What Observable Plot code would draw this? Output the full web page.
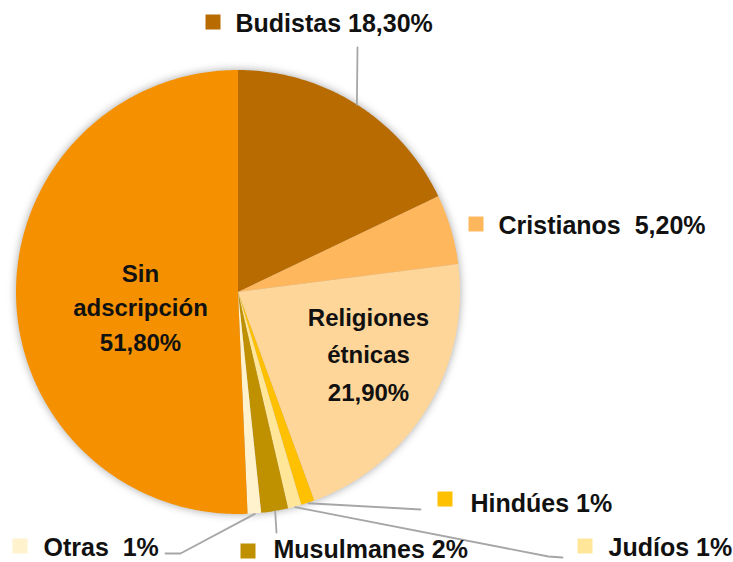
<!DOCTYPE html>
<html><head><meta charset="utf-8">
<script src="https://cdn.jsdelivr.net/npm/d3@7"></script>
<script src="https://cdn.jsdelivr.net/npm/@observablehq/plot@0.6"></script>
<style>body{margin:0;background:#fff} #chart{width:733px;height:562px}</style>
</head><body><div id="chart"></div>
<script>
// ---- data ----
const categories = ["Budistas","Cristianos","Religiones étnicas","Hindúes","Judíos","Musulmanes","Otras","Sin adscripción"];
const values = [18.3, 5.2, 21.9, 1, 1, 2, 1, 51.8];
const valueLabels = ["18,30%","5,20%","21,90%","1%","1%","2%","1%","51,80%"];
const colors = ["#B86B00","#FFB75E","#FFD699","#FFC000","#FFE699","#BF9000","#FFF2CC","#F59100"];

// ---- layout (pixels) ----
const W = 733, H = 562, CX = 238, CY = 292, R = 222;
const FONT = "Liberation Sans, Arial, sans-serif";
const outerLayout = {
  "Budistas":   {sx:213, sy:22,  tx:235, ty:31,  sep:" ",           leader:[[357,47]]},
  "Cristianos": {sx:476, sy:224, tx:498, ty:233, sep:"\u00a0\u00a0", leader:null},
  "Hindúes":    {sx:445, sy:499, tx:470, ty:511, sep:" ",           leader:[[420,509]]},
  "Judíos":     {sx:585, sy:546, tx:608, ty:555, sep:" ",           leader:[[548,556],[562,557]]},
  "Musulmanes": {sx:248, sy:551, tx:273, ty:557, sep:" ",           leader:[[276,532]]},
  "Otras":      {sx:20,  sy:546, tx:43,  ty:555, sep:"\u00a0\u00a0", leader:[[180,553],[165,553]]}
};
const innerLayout = {
  "Religiones étnicas": {x:368, y:400, lh:1.55, lines:["Religiones","étnicas"]},
  "Sin adscripción":    {x:140, y:350, lh:1.42, lines:["Sin","adscripción"]}
};

// ---- geometry derived from values ----
const total = d3.sum(values);
let acc = 0;
const slices = categories.map((name, i) => {
  const a0 = acc / total * 2 * Math.PI; acc += values[i];
  const a1 = acc / total * 2 * Math.PI;
  return {name, i, a0, a1, mid:(a0 + a1) / 2};
});
function slicePoints(s) {
  const out = [[CX, CY]];
  const n = Math.max(2, Math.ceil((s.a1 - s.a0) / (Math.PI / 360)));
  for (let k = 0; k <= n; k++) {
    const a = s.a0 + (s.a1 - s.a0) * k / n;
    out.push([CX + R * Math.sin(a), CY - R * Math.cos(a)]);
  }
  return out;
}

const outer = slices.filter(s => outerLayout[s.name]).map(s => {
  const L = outerLayout[s.name];
  return {name:s.name, ...L, text: s.name + L.sep + valueLabels[s.i]};
});
const leaders = [];
outer.forEach(o => {
  if (!o.leader) return;
  const s = slices.find(d => d.name === o.name);
  leaders.push({name:o.name, x:CX + R * Math.sin(s.mid), y:CY - R * Math.cos(s.mid)});
  o.leader.forEach(p => leaders.push({name:o.name, x:p[0], y:p[1]}));
});
const inner = slices.filter(s => innerLayout[s.name]).map(s => {
  const L = innerLayout[s.name];
  return {name:s.name, ...L, text:[...L.lines, valueLabels[s.i]].join("\n")};
});

// pie mark: rendered through Plot's x / y scales
function pieMark(index, scales) {
  const line = d3.line().x(p => scales.x(p[0])).y(p => scales.y(p[1]));
  const g = d3.create("svg:g").attr("aria-label", "pie")
    .style("filter", "drop-shadow(0px 0px 4px rgba(0,0,0,0.35))");
  slices.forEach(s => {
    g.append("path").attr("d", line(slicePoints(s)) + "Z")
      .attr("fill", colors[s.i]).attr("stroke", "none");
  });
  return g.node();
}

const SQ = 15;
const chart = Plot.plot({
  width: W, height: H, margin: 0,
  style: {background:"#fff", overflow:"visible"},
  x: {domain:[0, W], range:[0, W], axis:null},
  y: {domain:[0, H], range:[0, H], axis:null},
  color: {domain:categories, range:colors},
  marks: [
    pieMark,
    Plot.line(leaders, {x:"x", y:"y", z:"name", stroke:"#A6A6A6", strokeWidth:1.8}),
    Plot.rect(outer, {x1:d => d.sx - SQ/2, x2:d => d.sx + SQ/2, y1:d => d.sy - SQ/2, y2:d => d.sy + SQ/2, fill:"name"}),
    Plot.text(outer, {x:"tx", y:"ty", text:"text", textAnchor:"start", lineAnchor:"bottom",
      fontSize:25, fontWeight:"bold", fontFamily:FONT, fill:"#111"}),
    ...inner.map(d => Plot.text([d], {x:"x", y:"y", text:"text", textAnchor:"middle", lineAnchor:"bottom",
      lineHeight:d.lh, fontSize:24, fontWeight:"bold", fontFamily:FONT, fill:"#111"}))
  ]
});
document.getElementById("chart").appendChild(chart);
</script>
</body></html>
